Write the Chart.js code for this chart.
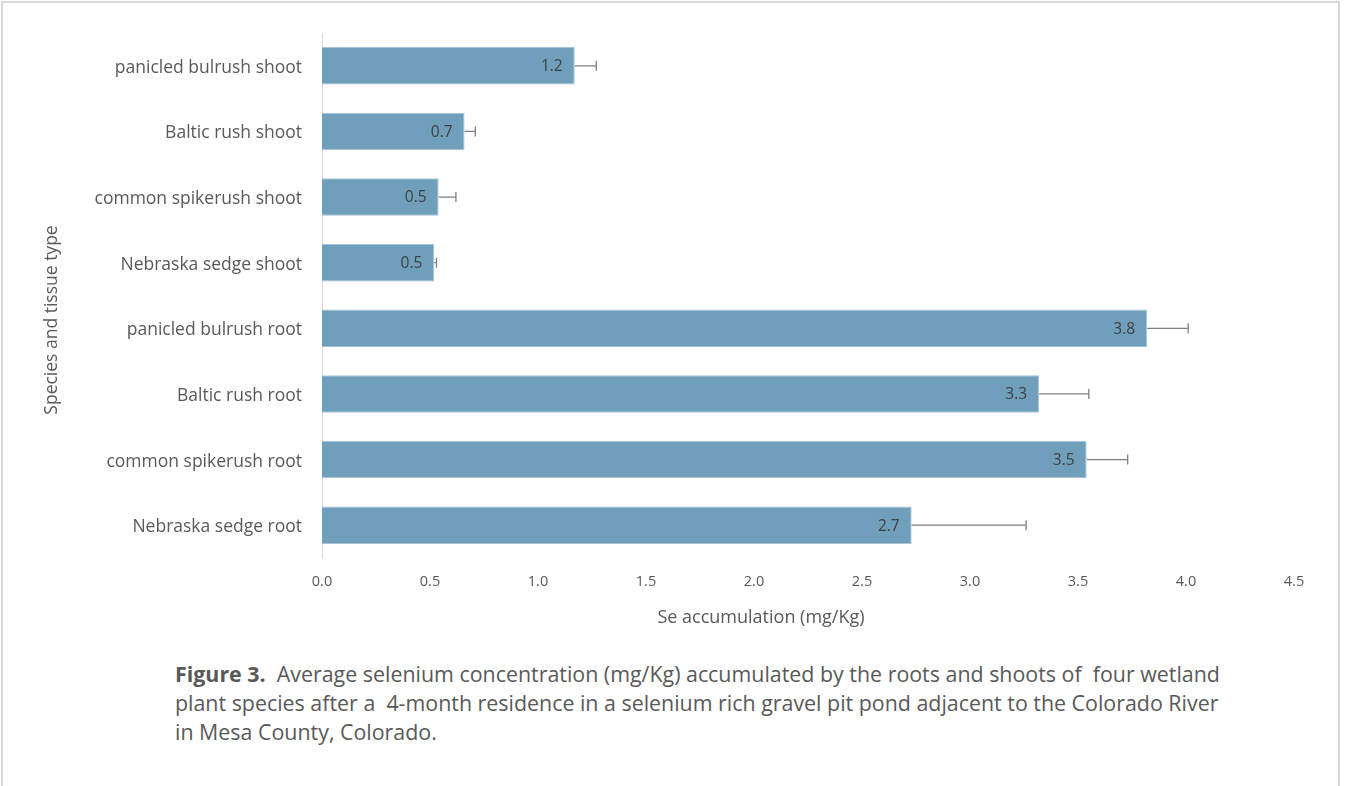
<!DOCTYPE html>
<html>
<head>
<meta charset="utf-8">
<script src="https://cdn.jsdelivr.net/npm/chart.js@4"></script>
<style>
  html, body { margin: 0; padding: 0; background: #fff; }
  #frame {
    position: absolute; left: 1px; top: 1px; width: 1339px; height: 800px;
    border: 2px solid #d9d9d9; box-sizing: border-box; overflow: hidden;
  }
  #wrap { position: absolute; left: 0; top: 0; width: 1345px; height: 640px; }
  #caption {
    position: absolute; left: 175px; top: 659px; width: 1150px;
    font-family: "Open Sans", sans-serif; font-size: 21.4px; line-height: 29px;
    color: #595959; white-space: nowrap;
  }
  #caption b { color: #595959; }
</style>
</head>
<body>
<div id="frame"></div>
<div id="wrap"><canvas id="chart"></canvas></div>
<div id="caption"><b>Figure 3.</b>&nbsp; Average selenium concentration (mg/Kg) accumulated by the roots and shoots of &nbsp;four wetland<br>plant species after a &nbsp;4-month residence in a selenium rich gravel pit pond adjacent to the Colorado River<br>in Mesa County, Colorado.</div>
<script>
// Species / tissue categories, top to bottom
const categories = [
  'panicled bulrush shoot',
  'Baltic rush shoot',
  'common spikerush shoot',
  'Nebraska sedge shoot',
  'panicled bulrush root',
  'Baltic rush root',
  'common spikerush root',
  'Nebraska sedge root'
];
// Mean Se accumulation (mg/Kg)
const seMeans = [1.17, 0.66, 0.54, 0.52, 3.82, 3.32, 3.54, 2.73];
// Error (plus side) for each mean
const seErrors = [0.10, 0.05, 0.08, 0.01, 0.19, 0.23, 0.19, 0.53];
// Value axis tick labels
const xTicks = ['0.0', '0.5', '1.0', '1.5', '2.0', '2.5', '3.0', '3.5', '4.0', '4.5'];
// Axis titles
const xTitle = 'Se accumulation (mg/Kg)';
const yTitle = 'Species and tissue type';

const FONT = '"Open Sans", sans-serif';

// Draws the error whiskers, the value labels at the bar ends and the axis titles
const barExtras = {
  id: 'barExtras',
  afterDatasetsDraw(chart) {
    const ctx = chart.ctx;
    const xs = chart.scales.x;
    const meta = chart.getDatasetMeta(0);
    ctx.save();
    meta.data.forEach((bar, i) => {
      const v = seMeans[i];
      const x0 = xs.getPixelForValue(v);
      const x1 = xs.getPixelForValue(v + seErrors[i]);
      const y = bar.y;
      ctx.strokeStyle = '#7f7f7f';
      ctx.lineWidth = 1.3;
      ctx.beginPath();
      ctx.moveTo(x0, y); ctx.lineTo(x1, y);
      ctx.moveTo(x1, y - 5); ctx.lineTo(x1, y + 5);
      ctx.stroke();
      ctx.fillStyle = '#404040';
      ctx.font = '15.5px ' + FONT;
      ctx.textAlign = 'right';
      ctx.textBaseline = 'middle';
      ctx.fillText(v.toFixed(1), x0 - 12, y + 1);
    });
    ctx.fillStyle = '#595959';
    ctx.font = '18px ' + FONT;
    ctx.textAlign = 'center';
    ctx.textBaseline = 'middle';
    ctx.fillText(xTitle, 761, 618);
    ctx.font = '17.5px ' + FONT;
    ctx.translate(52, 320);
    ctx.rotate(-Math.PI / 2);
    ctx.fillText(yTitle, 0, 0);
    ctx.restore();
  }
};

new Chart(document.getElementById('chart'), {
  type: 'bar',
  data: {
    labels: categories,
    datasets: [{
      data: seMeans,
      backgroundColor: '#6f9fba',
      borderColor: '#a7c4d6',
      borderWidth: 1,
      barPercentage: 0.57,
      categoryPercentage: 1.0
    }]
  },
  options: {
    indexAxis: 'y',
    responsive: true,
    maintainAspectRatio: false,
    animation: false,
    layout: { padding: { left: 0, top: 33, right: 51, bottom: 0 } },
    plugins: { legend: { display: false }, tooltip: { enabled: false } },
    scales: {
      x: {
        min: 0, max: 4.5,
        afterBuildTicks(scale) {
          scale.ticks = xTicks.map(t => ({ value: parseFloat(t) }));
        },
        afterFit(scale) { scale.height = 82; },
        grid: { display: false },
        border: { display: false },
        ticks: {
          color: '#595959', font: { family: FONT, size: 14.5 }, padding: 7,
          maxRotation: 0, autoSkip: false,
          callback: (val, idx) => xTicks[idx]
        }
      },
      y: {
        afterFit(scale) { scale.width = 322; },
        grid: { display: false },
        border: { display: true, color: '#d9d9d9', width: 1 },
        ticks: { color: '#595959', font: { family: FONT, size: 17.5 }, padding: 12, labelOffset: 2 }
      }
    }
  },
  plugins: [barExtras]
});
</script>
</body>
</html>
